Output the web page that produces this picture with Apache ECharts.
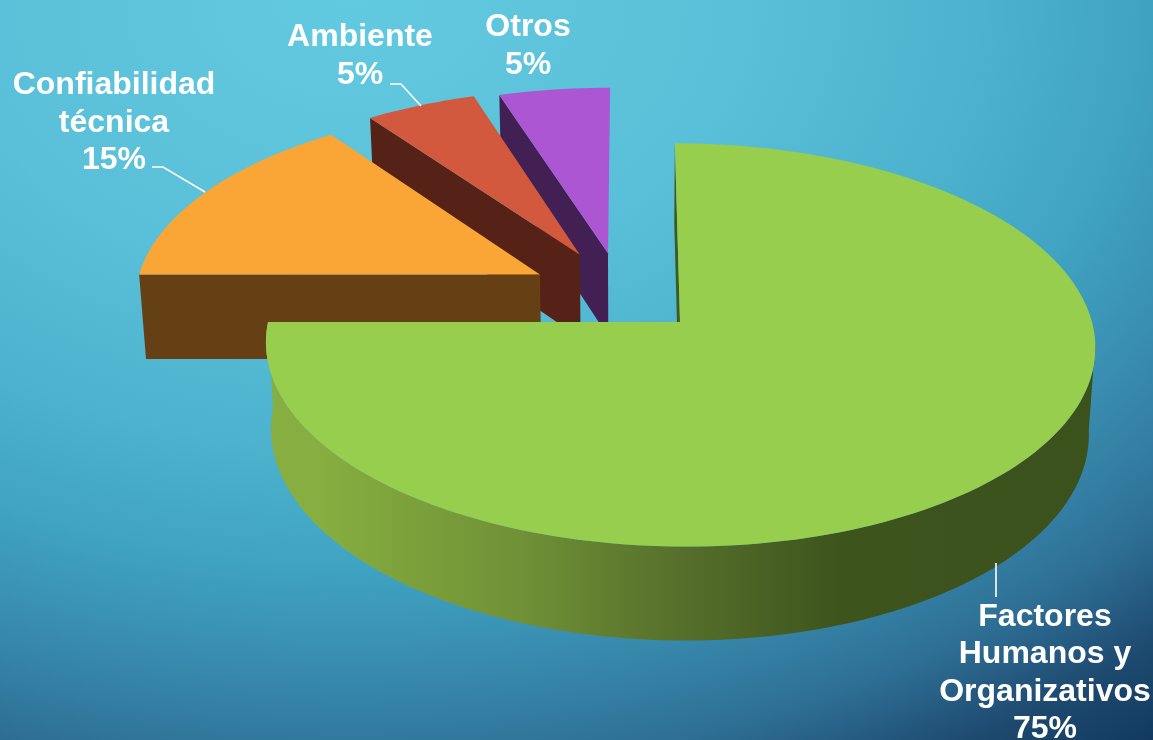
<!DOCTYPE html>
<html>
<head>
<meta charset="utf-8">
<style>html,body{margin:0;padding:0;width:100%;height:100%;overflow:hidden}#chart{width:1153px;height:740px}</style>
<script src="https://cdn.jsdelivr.net/npm/echarts@6/dist/echarts.min.js"></script>
</head>
<body>
<div id="chart"></div>
<script>
const categories = ['Factores\nHumanos y\nOrganizativos', 'Confiabilidad\ntécnica', 'Ambiente', 'Otros'];
const shares = [75, 15, 5, 5];

const topColors = ['#97ce4d', '#f9a636', '#d2593e', '#ad56d3'];
const wallColors = ['#3f5a20', '#644014', '#562117', '#432053'];
const explodeU = [0, -0.346, -0.248, -0.177];
const explodeV = [0, -0.245, -0.352, -0.36];
const labelCenters = [[1045, 617], [114, 85.5], [360, 37.5], [528, 27.5]];
const leaders = [
  [[996, 563], [996, 597]],
  [[152, 167], [163, 167], [205, 192]],
  [[390, 84], [401, 84], [421, 106]],
  []
];

// projection of the tilted pie
const VP_X = 630, BASE_Y = 322, OFFSET_X = 50, RX = 412, RY = 199, PERSP = 0.114, DEPTH = 86, K = 0.986;

function project(u, v) {
  const s = 1 / (1 - PERSP * v);
  return [VP_X + (OFFSET_X + RX * u) * s, BASE_Y + RY * v * s, s];
}
function drop(p) {
  return [VP_X + (p[0] - VP_X) * K, p[1] + DEPTH * p[2] + (p[1] - BASE_Y) * (K - 1)];
}
function rim(i, deg) {
  const a = deg * Math.PI / 180;
  return project(explodeU[i] + Math.sin(a), explodeV[i] - Math.cos(a));
}
function arc(i, from, to) {
  const pts = [], n = Math.max(4, Math.ceil(Math.abs(to - from) / 1.5));
  for (let k = 0; k <= n; k++) pts.push(rim(i, from + (to - from) * k / n));
  return pts;
}
const xy = p => [p[0], p[1]];

const total = shares.reduce((a, b) => a + b, 0);
const startAngles = [];
shares.reduce((acc, v, i) => { startAngles[i] = acc / total * 360; return acc + v; }, 0);

const wallGradient = {
  type: 'linear', x: 271, y: 0, x2: 1090, y2: 0, global: true,
  colorStops: [
    { offset: 0, color: '#86ae40' },
    { offset: 0.06, color: '#86ae40' },
    { offset: 0.31, color: '#6f9036' },
    { offset: 0.5, color: '#566f2b' },
    { offset: 0.695, color: '#3d541d' },
    { offset: 1, color: '#3c521d' }
  ]
};

const backdrop = {
  type: 'radial', x: 350, y: 0, r: 1311, global: true,
  colorStops: [
    { offset: 0, color: '#62cae0' },
    { offset: 0.3, color: '#5abfd8' },
    { offset: 0.48, color: '#4cb2cd' },
    { offset: 0.6, color: '#40a4c2' },
    { offset: 0.67, color: '#3b95b7' },
    { offset: 0.75, color: '#3583a7' },
    { offset: 0.83, color: '#2e6e94' },
    { offset: 0.92, color: '#1e4a70' },
    { offset: 1, color: '#123a60' }
  ]
};

function renderSlice(params, api) {
  const i = api.value(0);
  const from = startAngles[i], to = from + api.value(1) / total * 360;
  const apex = project(explodeU[i], explodeV[i]);
  const children = [];
  const poly = (points, fill) => children.push({ type: 'polygon', shape: { points }, style: { fill } });

  const tip = rim(i, from);
  poly([tip, apex, drop(apex), drop(tip)].map(xy), wallColors[i]);
  if (i === 0) {
    const outer = arc(i, 96, to);
    poly(outer.map(xy).concat(outer.map(drop).reverse()), wallGradient);
  }
  poly([xy(apex)].concat(arc(i, from, to).map(xy)), topColors[i]);
  return { type: 'group', children };
}

function renderLabel(params, api) {
  const i = api.value(0);
  const c = labelCenters[i];
  const lines = categories[i].split('\n').concat(api.value(1) + '%');
  const children = lines.map((t, n) => ({
    type: 'text',
    style: {
      x: c[0], y: c[1] + n * 37.4, text: t, fill: '#ffffff',
      font: 'bold 32px "Liberation Sans", Arial, sans-serif', align: 'center', verticalAlign: 'middle'
    }
  }));
  if (leaders[i].length) children.push({
    type: 'polyline', shape: { points: leaders[i] },
    style: { fill: 'none', stroke: '#ffffff', lineWidth: 1.6 }
  });
  return { type: 'group', children };
}

const rows = shares.map((v, i) => [i, v]);
const chart = echarts.init(document.getElementById('chart'), null, { renderer: 'canvas', width: 1153, height: 740 });
chart.setOption({
  animation: false,
  graphic: [{
    type: 'rect', silent: true, z: -1, x: 0, y: 0, scaleY: 1 / 1.4,
    shape: { x: 0, y: 0, width: 1153, height: 1036 },
    style: { fill: backdrop }
  }],
  series: [
    { type: 'custom', coordinateSystem: 'none', silent: true, data: rows.slice().reverse(), renderItem: renderSlice, z: 2 },
    { type: 'custom', coordinateSystem: 'none', silent: true, data: rows, renderItem: renderLabel, z: 3 }
  ]
});
</script>
</body>
</html>
